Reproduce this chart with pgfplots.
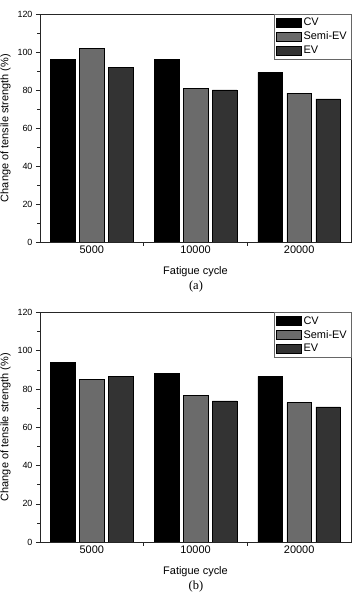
\documentclass[border=0pt]{standalone}
\usepackage{pgfplots}
\pgfplotsset{compat=1.18}
\usepackage{fontspec}
\setmainfont{Liberation Sans}
\newfontfamily\seriffont{Liberation Serif}
\definecolor{cvc}{HTML}{000000}
\definecolor{semic}{HTML}{6B6B6B}
\definecolor{evc}{HTML}{333333}
\pgfplotsset{mybar/.style={
  scale only axis, width=311bp,
  ybar=4.5bp, bar width=24.5bp,
  xmin=0.5, xmax=3.5, ymin=0, ymax=120,
  ytick={0,20,...,120}, minor y tick num=1,
  xtick={1.5,2.5}, xticklabels={},
  extra x ticks={1,2,3}, extra x tick labels={5000,10000,20000},
  extra x tick style={major tick length=0pt},
  tick align=outside, tick pos=left,
  major tick length=4bp, minor tick length=2.5bp,
  /pgf/number format/assume math mode=true,
  yticklabel style={font=\fontsize{9}{10}\selectfont},
  xticklabel style={font=\fontsize{11}{12}\selectfont},
  axis line style={black!85}, every tick/.style={black!85},
  xlabel={Fatigue cycle}, xlabel style={font=\fontsize{11}{12}\selectfont, yshift=-2bp},
  ylabel={Change of tensile strength (\%)}, ylabel style={font=\fontsize{11}{12}\selectfont},
  legend style={at={(1,1)}, anchor=north east, draw=black!60, font=\fontsize{11}{12}\selectfont,
    row sep=0.5bp, inner sep=2bp},
  legend cell align=left,
  legend image code/.code={\draw[#1] (0bp,-4.5bp) rectangle (25bp,4.5bp);},
  every axis plot/.append style={draw=black, line width=0.5bp},
}}
\begin{document}
\begin{tikzpicture}
\useasboundingbox (0,0) rectangle (354bp,594bp);
\begin{axis}[mybar, height=228bp, at={(40bp,352bp)}, anchor=south west]
\addplot[fill=cvc] coordinates {(1,96) (2,96.3) (3,89.3)};
\addplot[fill=semic] coordinates {(1,102) (2,81) (3,78.3)};
\addplot[fill=evc] coordinates {(1,92) (2,80) (3,75.3)};
\legend{CV,Semi-EV,EV}
\end{axis}
\node[font=\seriffont\fontsize{12.5}{14}\selectfont] at (196bp,307bp) {(a)};
\begin{axis}[mybar, height=229.6bp, at={(40bp,52bp)}, anchor=south west]
\addplot[fill=cvc] coordinates {(1,93.9) (2,88.3) (3,86.6)};
\addplot[fill=semic] coordinates {(1,84.8) (2,76.5) (3,72.8)};
\addplot[fill=evc] coordinates {(1,86.6) (2,73.7) (3,70.6)};
\legend{CV,Semi-EV,EV}
\end{axis}
\node[font=\seriffont\fontsize{12.5}{14}\selectfont] at (196bp,7bp) {(b)};
\end{tikzpicture}
\end{document}
